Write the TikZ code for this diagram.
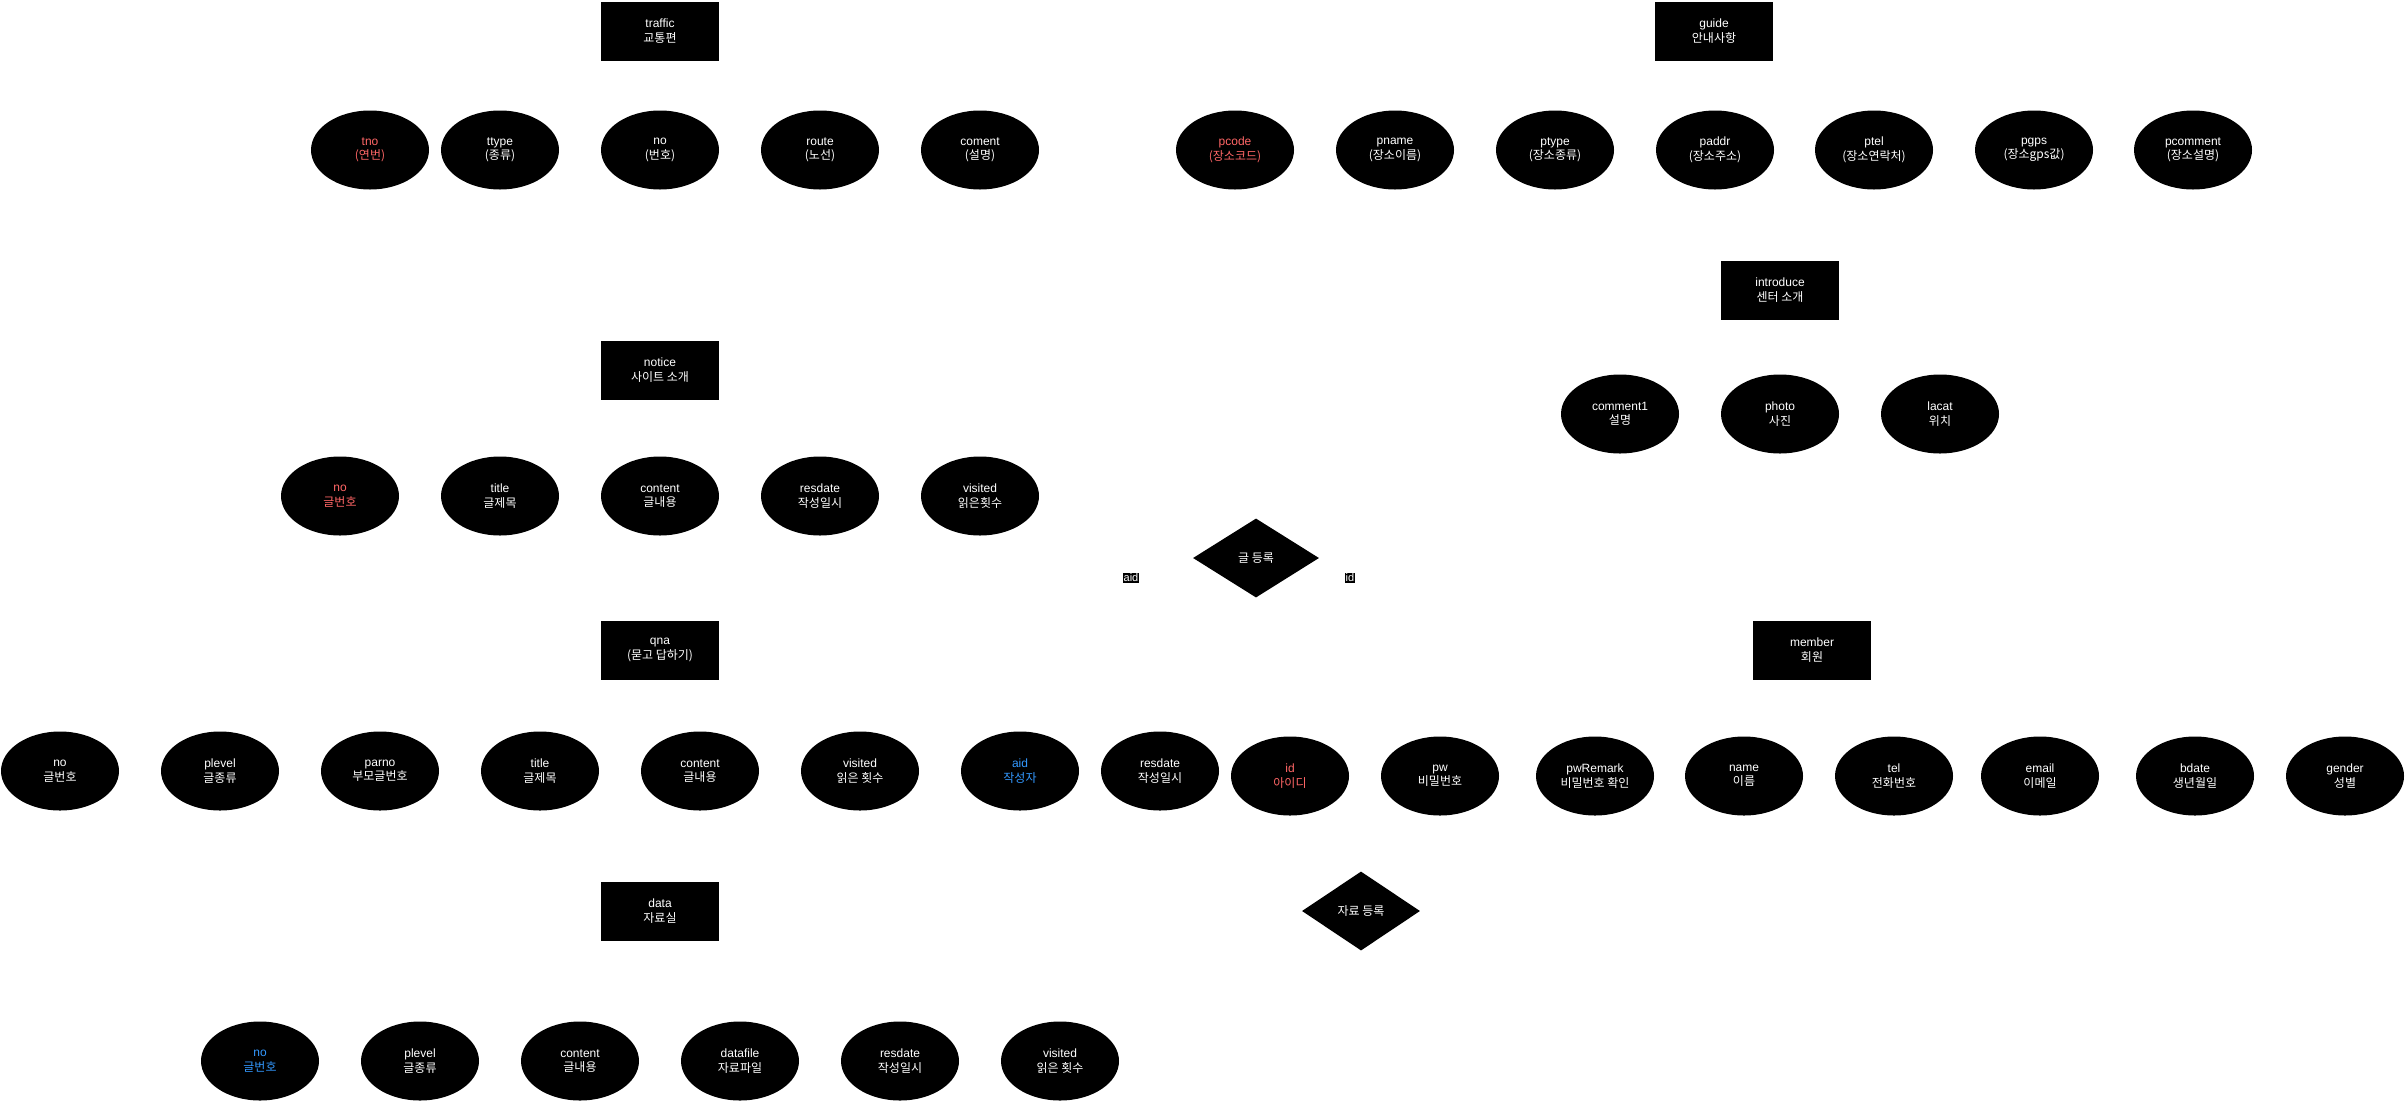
\documentclass[tikz,border=0pt]{standalone}
\usepackage{fontspec}
\setmainfont{Liberation Sans}
\newfontfamily\kr{Noto Sans CJK KR}
\usepackage{tikz}
\usetikzlibrary{shapes.geometric}
\definecolor{keyred}{HTML}{FF6666}
\definecolor{fkblue}{HTML}{3399FF}
\tikzstyle{entity}=[rectangle,fill=black,draw=none,text=white,align=center,minimum width=118pt,minimum height=59pt,inner sep=0pt]
\tikzstyle{attr}=[ellipse,fill=black,draw=none,text=white,align=center,minimum width=118pt,minimum height=79pt,inner sep=0pt]
\tikzstyle{rel}=[diamond,fill=black,draw=none,text=white,minimum height=79pt,inner sep=0pt]
\tikzstyle{lbl}=[fill=black,text=white,inner sep=0.5pt,font=\fontsize{11}{12}\selectfont]

\begin{document}
\begin{tikzpicture}[x=1pt,y=-1pt,font=\fontsize{12}{14.4}\selectfont]
        \useasboundingbox (0,0) rectangle (2405,1101);
        % traffic
        \node (traffic) at (660,31) [entity] {traffic\\{\kr 교통편}};
        \foreach \x/\a/\b/\c in {370/tno/{(연번)}/keyred,500/ttype/{(종류)}/white,660/no/{(번호)}/white,820/route/{(노선)}/white,980/coment/{(설명)}/white}
          \node (traffic-\a) at (\x,150) [attr,text=\c] {\a\\{\kr\b}};
        % guide
        \node (guide) at (1714,31) [entity] {guide\\{\kr 안내사항}};
        \foreach \x/\a/\b/\c in {1235/pcode/{(장소코드)}/keyred,1395/pname/{(장소이름)}/white,1555/ptype/{(장소종류)}/white,1715/paddr/{(장소주소)}/white,1874/ptel/{(장소연락처)}/white,2034/pgps/{(장소gps값)}/white,2193/pcomment/{(장소설명)}/white}
          \node (guide-\a) at (\x,150) [attr,text=\c] {\a\\{\kr\b}};
        % introduce
        \node (introduce) at (1780,290) [entity] {introduce\\{\kr 센터 소개}};
        \foreach \x/\a/\b in {1620/comment1/설명,1780/photo/사진,1940/lacat/위치}
          \node (introduce-\a) at (\x,414) [attr] {\a\\{\kr\b}};
        % notice
        \node (notice) at (660,370) [entity] {notice\\{\kr 사이트 소개}};
        \foreach \x/\a/\b/\c in {340/no/글번호/keyred,500/title/글제목/white,660/content/글내용/white,820/resdate/작성일시/white,980/visited/읽은횟수/white}
          \node (notice-\a) at (\x,496) [attr,text=\c] {\a\\{\kr\b}};
        % relations
        \node (write) at (1256,558) [rel,minimum width=126pt] {\kr 글 등록};
        \node (aid) at (1131,578) [lbl] {aid};
        \node (id) at (1350,578) [lbl] {id};
        \node (upload) at (1361,911) [rel,minimum width=118pt] {\kr 자료 등록};
        % qna
        \node (qna) at (660,650) [entity] {qna\\{\kr (묻고 답하기)}};
        \foreach \x/\a/\b/\c in {60/no/글번호/white,220/plevel/글종류/white,380/parno/부모글번호/white,540/title/글제목/white,700/content/글내용/white,860/visited/읽은 횟수/white,1020/aid/작성자/fkblue,1160/resdate/작성일시/white}
          \node (qna-\a) at (\x,771) [attr,text=\c] {\a\\{\kr\b}};
        % member
        \node (member) at (1812,650) [entity] {member\\{\kr 회원}};
        \foreach \x/\a/\b/\c in {1290/id/아이디/keyred,1440/pw/비밀번호/white,1595/pwRemark/비밀번호 확인/white,1744/name/이름/white,1894/tel/전화번호/white,2040/email/이메일/white,2195/bdate/생년월일/white,2345/gender/성별/white}
          \node (member-\a) at (\x,776) [attr,text=\c] {\a\\{\kr\b}};
        % data
        \node (data) at (660,911) [entity] {data\\{\kr 자료실}};
        \foreach \x/\a/\b/\c in {260/no/글번호/fkblue,420/plevel/글종류/white,580/content/글내용/white,740/datafile/자료파일/white,900/resdate/작성일시/white,1060/visited/읽은 횟수/white}
          \node (data-\a) at (\x,1061) [attr,text=\c] {\a\\{\kr\b}};
      \end{tikzpicture}
\end{document}
